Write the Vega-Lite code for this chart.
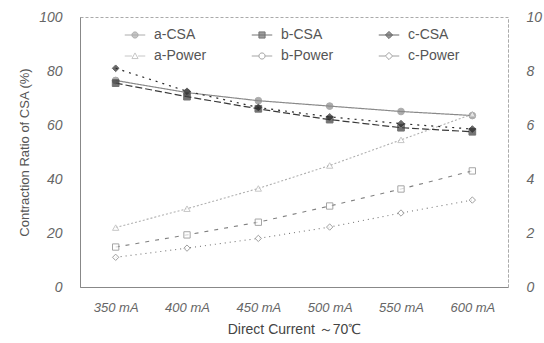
{
  "$schema": "https://vega.github.io/schema/vega-lite/v6.json",
  "width": 428,
  "height": 270,
  "autosize": "none",
  "padding": {"left": 80, "top": 17, "right": 36, "bottom": 56},
  "background": "white",
  "config": {
    "view": {"stroke": "#aaa", "strokeDash": [3, 2]},
    "font": "Liberation Sans",
    "axis": {"grid": false, "ticks": false, "domainColor": "#888", "labelFont": "Liberation Sans", "labelFontStyle": "italic", "labelColor": "#666", "titleFont": "Liberation Sans", "titleFontWeight": "normal", "titleColor": "#555"}
  },
  "data": {"values": [
    {"current": "350 mA", "series": "a-CSA", "value": 76.5},
    {"current": "400 mA", "series": "a-CSA", "value": 72},
    {"current": "450 mA", "series": "a-CSA", "value": 69},
    {"current": "500 mA", "series": "a-CSA", "value": 67},
    {"current": "550 mA", "series": "a-CSA", "value": 65},
    {"current": "600 mA", "series": "a-CSA", "value": 63.5},
    {"current": "350 mA", "series": "b-CSA", "value": 75.5},
    {"current": "400 mA", "series": "b-CSA", "value": 70.5},
    {"current": "450 mA", "series": "b-CSA", "value": 66},
    {"current": "500 mA", "series": "b-CSA", "value": 62},
    {"current": "550 mA", "series": "b-CSA", "value": 59},
    {"current": "600 mA", "series": "b-CSA", "value": 57.5},
    {"current": "350 mA", "series": "c-CSA", "value": 81},
    {"current": "400 mA", "series": "c-CSA", "value": 72.5},
    {"current": "450 mA", "series": "c-CSA", "value": 66.5},
    {"current": "500 mA", "series": "c-CSA", "value": 63},
    {"current": "550 mA", "series": "c-CSA", "value": 60.5},
    {"current": "600 mA", "series": "c-CSA", "value": 58.5},
    {"current": "350 mA", "series": "a-Power", "value": 2.2},
    {"current": "400 mA", "series": "a-Power", "value": 2.9},
    {"current": "450 mA", "series": "a-Power", "value": 3.65},
    {"current": "500 mA", "series": "a-Power", "value": 4.5},
    {"current": "550 mA", "series": "a-Power", "value": 5.45},
    {"current": "600 mA", "series": "a-Power", "value": 6.4},
    {"current": "350 mA", "series": "b-Power", "value": 1.48},
    {"current": "400 mA", "series": "b-Power", "value": 1.93},
    {"current": "450 mA", "series": "b-Power", "value": 2.4},
    {"current": "500 mA", "series": "b-Power", "value": 3.0},
    {"current": "550 mA", "series": "b-Power", "value": 3.63},
    {"current": "600 mA", "series": "b-Power", "value": 4.3},
    {"current": "350 mA", "series": "c-Power", "value": 1.1},
    {"current": "400 mA", "series": "c-Power", "value": 1.44},
    {"current": "450 mA", "series": "c-Power", "value": 1.8},
    {"current": "500 mA", "series": "c-Power", "value": 2.22},
    {"current": "550 mA", "series": "c-Power", "value": 2.74},
    {"current": "600 mA", "series": "c-Power", "value": 3.22}
  ]},
  "encoding": {
    "x": {"field": "current", "type": "ordinal", "sort": null,
      "scale": {"type": "point", "padding": 0.5},
      "axis": {"title": "Direct Current ～70℃", "labelAngle": 0, "labelFontSize": 13, "labelPadding": 14, "titleFontSize": 14, "titlePadding": 8, "titleColor": "#444"}}
  },
  "layer": [
    {
      "transform": [{"filter": "indexof(datum.series, 'CSA') >= 0"}],
      "encoding": {
        "y": {"field": "value", "type": "quantitative", "scale": {"domain": [0, 100]},
          "axis": {"title": "Contraction Ratio of CSA (%)", "values": [0, 20, 40, 60, 80, 100], "labelFontSize": 14, "labelPadding": 18, "titleFontSize": 13, "titlePadding": 7}},
        "stroke": {"field": "series", "type": "nominal", "legend": null,
          "scale": {"domain": ["a-CSA", "b-CSA", "c-CSA", "a-Power", "b-Power", "c-Power"], "range": ["#8a8a8a", "#3a3a3a", "#2a2a2a", "#b0b0b0", "#808080", "#777777"]}}
      },
      "layer": [
        {"mark": {"type": "line", "strokeWidth": 1.2},
          "encoding": {"strokeDash": {"field": "series", "type": "nominal", "legend": null,
            "scale": {"domain": ["a-CSA", "b-CSA", "c-CSA", "a-Power", "b-Power", "c-Power"], "range": [[1, 0], [7, 3], [2, 5], [2, 2], [4, 6], [1, 4]]}}}},
        {"mark": {"type": "point", "filled": true, "size": 45, "strokeWidth": 1},
          "encoding": {
            "shape": {"field": "series", "type": "nominal", "legend": null,
              "scale": {"domain": ["a-CSA", "b-CSA", "c-CSA", "a-Power", "b-Power", "c-Power"], "range": ["circle", "square", "diamond", "triangle-up", "square", "diamond"]}},
            "fill": {"field": "series", "type": "nominal", "legend": null,
              "scale": {"domain": ["a-CSA", "b-CSA", "c-CSA", "a-Power", "b-Power", "c-Power"], "range": ["#8a8a8a", "#3a3a3a", "#2a2a2a", "white", "white", "white"]}}
          }}
      ]
    },
    {
      "transform": [{"filter": "indexof(datum.series, 'Power') >= 0"}],
      "encoding": {
        "y": {"field": "value", "type": "quantitative", "scale": {"domain": [0, 10]},
          "axis": {"orient": "right", "title": null, "values": [0, 2, 4, 6, 8, 10], "labelFontSize": 14, "labelPadding": 18, "domainColor": "#aaa", "domainDash": [3, 2]}},
        "stroke": {"field": "series", "type": "nominal", "legend": null,
          "scale": {"domain": ["a-CSA", "b-CSA", "c-CSA", "a-Power", "b-Power", "c-Power"], "range": ["#8a8a8a", "#3a3a3a", "#2a2a2a", "#b0b0b0", "#808080", "#777777"]}}
      },
      "layer": [
        {"mark": {"type": "line", "strokeWidth": 1.1},
          "encoding": {"strokeDash": {"field": "series", "type": "nominal", "legend": null,
            "scale": {"domain": ["a-CSA", "b-CSA", "c-CSA", "a-Power", "b-Power", "c-Power"], "range": [[1, 0], [7, 3], [2, 5], [2, 2], [4, 6], [1, 4]]}}}},
        {"mark": {"type": "point", "filled": true, "size": 40, "strokeWidth": 1},
          "encoding": {
            "shape": {"field": "series", "type": "nominal", "legend": null,
              "scale": {"domain": ["a-CSA", "b-CSA", "c-CSA", "a-Power", "b-Power", "c-Power"], "range": ["circle", "square", "diamond", "triangle-up", "square", "diamond"]}},
            "fill": {"field": "series", "type": "nominal", "legend": null,
              "scale": {"domain": ["a-CSA", "b-CSA", "c-CSA", "a-Power", "b-Power", "c-Power"], "range": ["#8a8a8a", "#3a3a3a", "#2a2a2a", "white", "white", "white"]}}
          }}
      ]
    },
    {
      "transform": [{"filter": "false"}],
      "mark": {"type": "point", "filled": true, "strokeWidth": 1},
      "encoding": {
        "shape": {"field": "series", "type": "nominal",
          "scale": {"domain": ["a-CSA", "b-CSA", "c-CSA", "a-Power", "b-Power", "c-Power"],
            "range": [
              "M-1,0H1M0.3,0A0.3,0.3 0 1,1 -0.3,0A0.3,0.3 0 1,1 0.3,0Z",
              "M-1,0H1M-0.3,-0.3H0.3V0.3H-0.3Z",
              "M-1,0H1M0,-0.35L0.35,0L0,0.35L-0.35,0Z",
              "M-1,0H-0.3M0.3,0H1M0,-0.3L0.3,0.25L-0.3,0.25Z",
              "M-1,0H-0.3M0.3,0H1M0.3,0A0.3,0.3 0 1,1 -0.3,0A0.3,0.3 0 1,1 0.3,0Z",
              "M-1,0H-0.35M0.35,0H1M0,-0.35L0.35,0L0,0.35L-0.35,0Z"
            ]},
          "legend": {"title": null, "orient": "none", "direction": "horizontal", "legendX": 44, "legendY": 7, "columns": 3, "columnPadding": 42, "rowPadding": 3, "symbolSize": 420, "symbolStrokeWidth": 1, "labelFontSize": 14, "labelColor": "#555", "labelFont": "Liberation Sans", "labelOffset": 8}},
        "stroke": {"field": "series", "type": "nominal",
          "scale": {"domain": ["a-CSA", "b-CSA", "c-CSA", "a-Power", "b-Power", "c-Power"], "range": ["#8a8a8a", "#3a3a3a", "#2a2a2a", "#b0b0b0", "#808080", "#777777"]}},
        "fill": {"field": "series", "type": "nominal",
          "scale": {"domain": ["a-CSA", "b-CSA", "c-CSA", "a-Power", "b-Power", "c-Power"], "range": ["#8a8a8a", "#3a3a3a", "#2a2a2a", "white", "white", "white"]}}
      }
    }
  ],
  "resolve": {"scale": {"y": "independent", "shape": "independent", "stroke": "independent", "fill": "independent", "strokeDash": "independent"}}
}
